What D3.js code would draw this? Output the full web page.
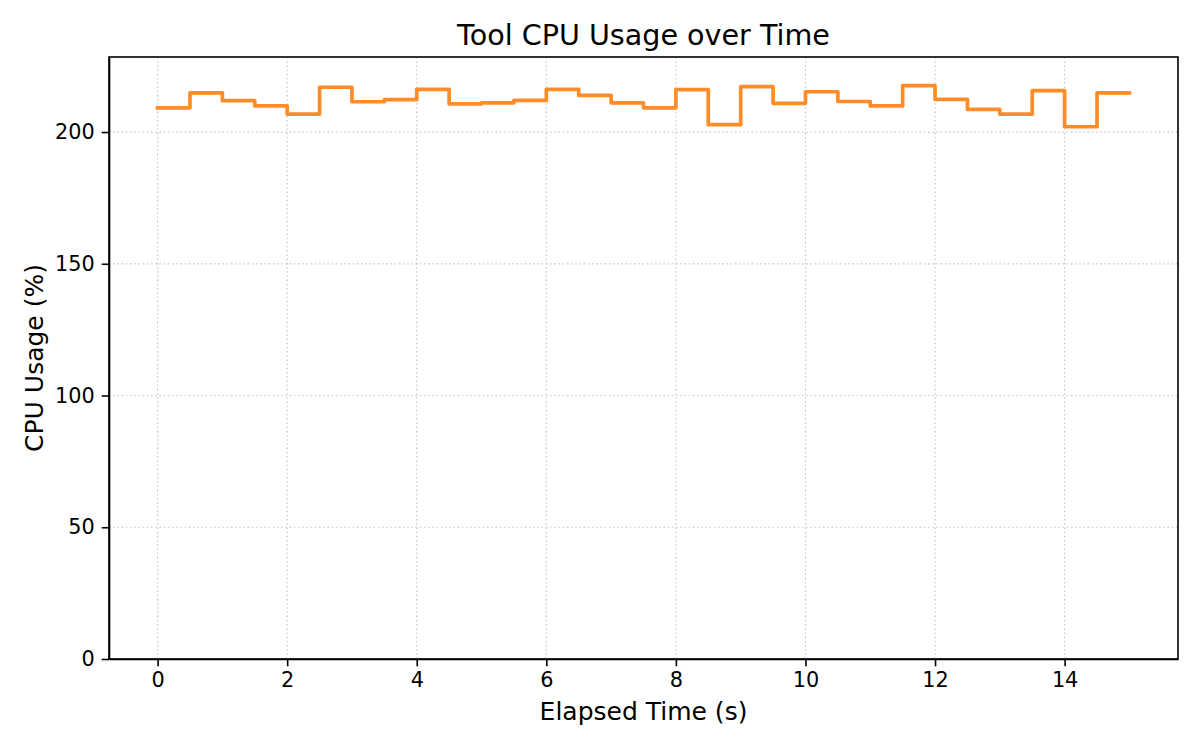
<!DOCTYPE html>
<html>
<head>
<meta charset="utf-8">
<script src="https://cdn.jsdelivr.net/npm/d3@7"></script>
<style>
  body { margin: 0; background: #fff; }
  svg { display: block; font-family: "DejaVu Sans", sans-serif; }
  .grid line { stroke: #c8c8c8; stroke-width: 1.2; stroke-dasharray: 1.6,2.6; }
  .axis path, .axis line { stroke: #000; stroke-width: 1.6; }
  .axis text { fill: #000; font-size: 20.8px; font-family: "DejaVu Sans", sans-serif; }
</style>
</head>
<body>
<svg id="chart" width="1200" height="750"></svg>
<script>
// sampled every 0.5 s, drawn as a post-step line
const times = [0, 0.5, 1, 1.5, 2, 2.5, 3, 3.5, 4, 4.5, 5, 5.5, 6, 6.5, 7, 7.5,
  8, 8.5, 9, 9.5, 10, 10.5, 11, 11.5, 12, 12.5, 13, 13.5, 14, 14.5, 15];
const cpuUsage = [209.2, 214.9, 211.9, 209.9, 206.8, 217.0, 211.5, 212.3, 216.2, 210.7,
  211.1, 212.0, 216.2, 213.9, 211.1, 209.2, 216.1, 202.8, 217.2, 210.9,
  215.3, 211.6, 209.9, 217.6, 212.4, 208.6, 206.8, 215.7, 202.0, 214.9, 214.9];
const xTicks = [0, 2, 4, 6, 8, 10, 12, 14];
const yTicks = [0, 50, 100, 150, 200];

const svg = d3.select("#chart");
const width = 1200, height = 750;
const margin = {top: 57, right: 22, bottom: 91, left: 109};

const x = d3.scaleLinear()
  .domain([-0.75, 15.75])
  .range([margin.left, width - margin.right]);
const y = d3.scaleLinear()
  .domain([0, d3.max(cpuUsage) * 1.05])
  .range([height - margin.bottom, margin.top]);

// dotted grid
const grid = svg.append("g").attr("class", "grid");
grid.selectAll(".vx").data(xTicks).join("line")
  .attr("x1", d => x(d)).attr("x2", d => x(d))
  .attr("y1", margin.top).attr("y2", height - margin.bottom);
grid.selectAll(".hy").data(yTicks).join("line")
  .attr("x1", margin.left).attr("x2", width - margin.right)
  .attr("y1", d => y(d)).attr("y2", d => y(d));

// the step line
const line = d3.line()
  .x((d, i) => x(times[i]))
  .y(d => y(d))
  .curve(d3.curveStepAfter);

svg.append("path")
  .datum(cpuUsage)
  .attr("fill", "none")
  .attr("stroke", "#ff8c26")
  .attr("stroke-width", 3.7)
  .attr("stroke-linejoin", "round")
  .attr("stroke-linecap", "square")
  .attr("d", line);

// axes
svg.append("g").attr("class", "axis")
  .attr("transform", "translate(0," + (height - margin.bottom) + ")")
  .call(d3.axisBottom(x).tickValues(xTicks).tickSize(7.3).tickPadding(6).tickSizeOuter(0));
svg.append("g").attr("class", "axis")
  .attr("transform", "translate(" + margin.left + ",0)")
  .call(d3.axisLeft(y).tickValues(yTicks).tickSize(7.3).tickPadding(7).tickSizeOuter(0));

// frame
svg.append("rect")
  .attr("x", margin.left).attr("y", margin.top)
  .attr("width", width - margin.left - margin.right)
  .attr("height", height - margin.top - margin.bottom)
  .attr("fill", "none").attr("stroke", "#000").attr("stroke-width", 1.6);

// labels
svg.append("text")
  .attr("x", (margin.left + width - margin.right) / 2).attr("y", 45)
  .attr("text-anchor", "middle").attr("font-size", "28.6px")
  .text("Tool CPU Usage over Time");
svg.append("text")
  .attr("x", (margin.left + width - margin.right) / 2).attr("y", 720)
  .attr("text-anchor", "middle").attr("font-size", "25px")
  .text("Elapsed Time (s)");
svg.append("text")
  .attr("transform", "translate(43," + ((margin.top + height - margin.bottom) / 2) + ") rotate(-90)")
  .attr("text-anchor", "middle").attr("font-size", "25px")
  .text("CPU Usage (%)");
</script>
</body>
</html>
